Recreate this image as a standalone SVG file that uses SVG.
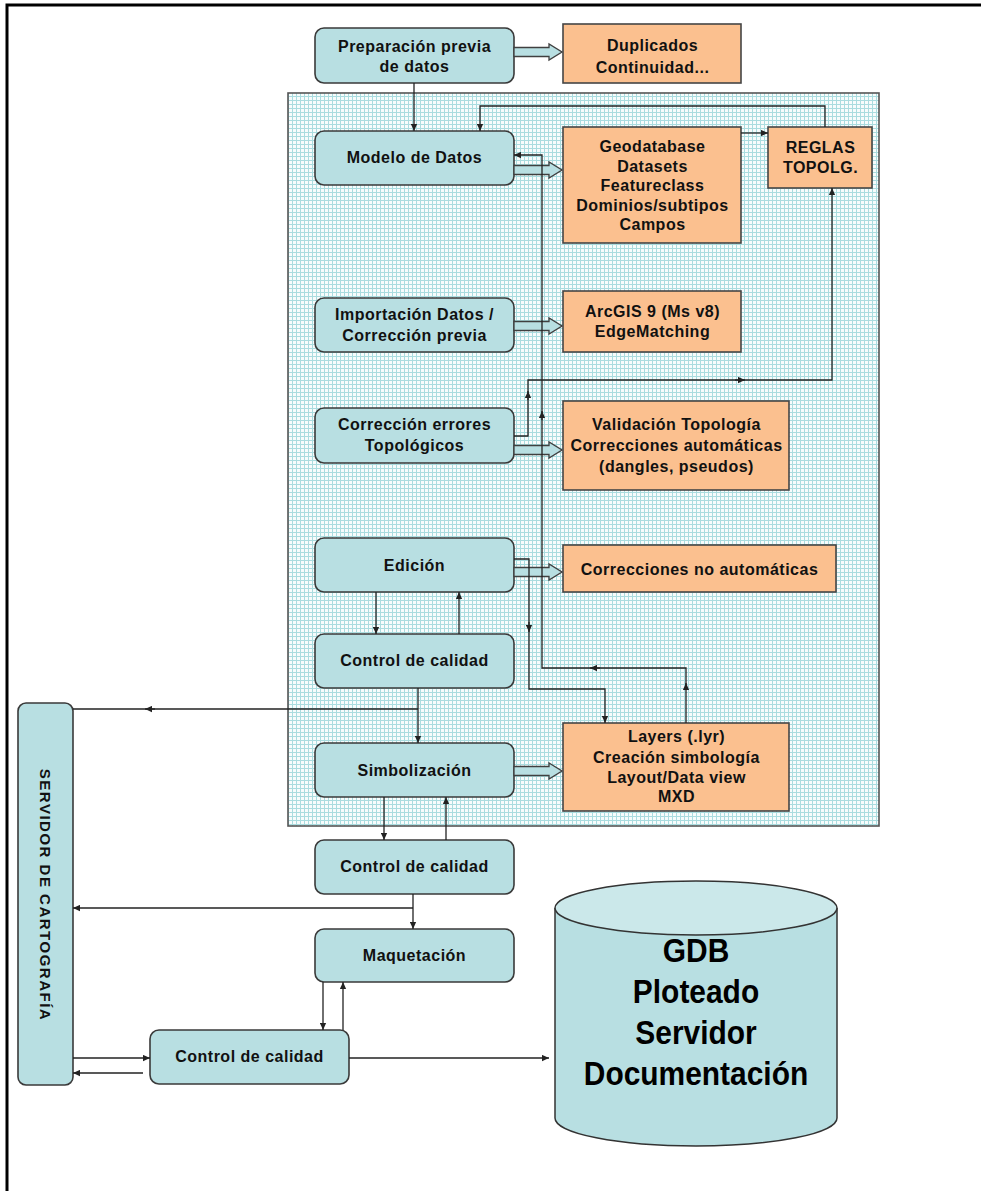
<svg xmlns="http://www.w3.org/2000/svg" width="981" height="1191" viewBox="0 0 981 1191">
<style>
.bx{fill:#b8dfe2;stroke:#3a3a3a;stroke-width:1.6}
.ob{fill:#fbc08f;stroke:#454545;stroke-width:1.6}
.t{font-family:"Liberation Sans",Arial,sans-serif;font-weight:bold;font-size:16px;letter-spacing:0.5px;fill:#111;text-anchor:middle}
.big{font-family:"Liberation Sans",Arial,sans-serif;font-weight:bold;font-size:34px;fill:#000;text-anchor:middle}
.ln{fill:none;stroke:#222;stroke-width:1.3}
.ba{fill:#b8dfe2;stroke:#404040;stroke-width:1.3}
</style>
<defs>
<pattern id="grid" patternUnits="userSpaceOnUse" width="4" height="4">
<rect width="4" height="4" fill="#f7fcfc"/>
<path d="M0 0.5H4M0.5 0V4" stroke="#aadcdf" stroke-width="1"/>
</pattern>
<marker id="ah" viewBox="0 0 10 10" refX="10" refY="5" markerWidth="7" markerHeight="7" markerUnits="userSpaceOnUse" orient="auto">
<path d="M0,0.5 L10,5 L0,9.5 z" fill="#222"/>
</marker>
</defs>
<rect width="981" height="1191" fill="#fff"/>
<path d="M7 1191V5H981" fill="none" stroke="#000" stroke-width="3"/>
<rect id="panel" x="288" y="93" width="591" height="733" fill="url(#grid)" stroke="#555" stroke-width="1.6"/>

<g id="n_preparacion"><rect class="bx" x="315" y="28" width="199" height="55" rx="9"/>
<text class="t" x="414.5" y="52">Preparación previa</text><text class="t" x="414.5" y="72">de datos</text></g>
<g id="n_duplicados"><rect class="ob" x="563" y="24" width="178" height="59"/>
<text class="t" x="652.5" y="51">Duplicados</text><text class="t" x="652.5" y="73">Continuidad...</text></g>
<g id="n_modelo"><rect class="bx" x="315" y="131" width="199" height="54" rx="9"/>
<text class="t" x="414.5" y="163">Modelo de Datos</text></g>
<g id="n_geodatabase"><rect class="ob" x="563" y="127" width="178" height="116"/>
<text class="t" x="652.5" y="152">Geodatabase</text><text class="t" x="652.5" y="172">Datasets</text><text class="t" x="652.5" y="191">Featureclass</text><text class="t" x="652.5" y="211">Dominios/subtipos</text><text class="t" x="652.5" y="230">Campos</text></g>
<g id="n_reglas"><rect class="ob" x="768" y="127" width="104" height="61"/>
<text class="t" x="820.5" y="153">REGLAS</text><text class="t" x="820.5" y="173">TOPOLG.</text></g>
<g id="n_importacion"><rect class="bx" x="315" y="298" width="199" height="54" rx="9"/>
<text class="t" x="414.5" y="320">Importación Datos /</text><text class="t" x="414.5" y="341">Corrección previa</text></g>
<g id="n_arcgis"><rect class="ob" x="563" y="291" width="178" height="61"/>
<text class="t" x="652.5" y="317">ArcGIS 9 (Ms v8)</text><text class="t" x="652.5" y="337">EdgeMatching</text></g>
<g id="n_correccion"><rect class="bx" x="315" y="408" width="199" height="55" rx="9"/>
<text class="t" x="414.5" y="430">Corrección errores</text><text class="t" x="414.5" y="451">Topológicos</text></g>
<g id="n_validacion"><rect class="ob" x="563" y="401" width="226" height="89"/>
<text class="t" x="676.5" y="430">Validación Topología</text><text class="t" x="676.5" y="451">Correcciones automáticas</text><text class="t" x="676.5" y="472">(dangles, pseudos)</text></g>
<g id="n_edicion"><rect class="bx" x="315" y="538" width="199" height="54" rx="9"/>
<text class="t" x="414.5" y="571">Edición</text></g>
<g id="n_noauto"><rect class="ob" x="563" y="545" width="273" height="47"/>
<text class="t" x="699.5" y="575">Correcciones no automáticas</text></g>
<g id="n_control1"><rect class="bx" x="315" y="634" width="199" height="54" rx="9"/>
<text class="t" x="414.5" y="666">Control de calidad</text></g>
<g id="n_simbolizacion"><rect class="bx" x="315" y="743" width="199" height="54" rx="9"/>
<text class="t" x="414.5" y="776">Simbolización</text></g>
<g id="n_layers"><rect class="ob" x="563" y="723" width="226" height="88"/>
<text class="t" x="676.5" y="742">Layers (.lyr)</text><text class="t" x="676.5" y="763">Creación simbología</text><text class="t" x="676.5" y="783">Layout/Data view</text><text class="t" x="676.5" y="802">MXD</text></g>
<g id="n_control2"><rect class="bx" x="315" y="840" width="199" height="54" rx="9"/>
<text class="t" x="414.5" y="872">Control de calidad</text></g>
<g id="n_maquetacion"><rect class="bx" x="315" y="929" width="199" height="53" rx="9"/>
<text class="t" x="414.5" y="961">Maquetación</text></g>
<g id="n_control3"><rect class="bx" x="150" y="1030" width="199" height="54" rx="9"/>
<text class="t" x="249.5" y="1062">Control de calidad</text></g>
<g id="n_servidor"><rect class="bx" x="18" y="703" width="55" height="382" rx="8"/>
<text class="t" transform="translate(45.5,895) rotate(90)" x="0" y="5.5" style="font-size:15px;letter-spacing:1.5px">SERVIDOR DE CARTOGRAFÍA</text></g>
<g id="n_gdb">
<path d="M555 908V1118A141 28 0 0 0 837 1118V908" fill="#b8dfe2" stroke="#333" stroke-width="1.5"/>
<ellipse cx="696" cy="908" rx="141" ry="27" fill="#cbe8ea" stroke="#333" stroke-width="1.5"/>
<g transform="translate(696,0) scale(0.88,1)">
<text class="big" x="0" y="962">GDB</text><text class="big" x="0" y="1003">Ploteado</text><text class="big" x="0" y="1044">Servidor</text><text class="big" x="0" y="1085">Documentación</text>
</g>
</g>

<g id="connectors">
<polygon class="ba" points="514,47.5 549,47.5 549,44 562,52 549,60 549,56.5 514,56.5"/>
<polygon class="ba" points="514,165.5 549,165.5 549,162 562,170 549,178 549,174.5 514,174.5"/>
<polygon class="ba" points="514,321.5 549,321.5 549,318 562,326 549,334 549,330.5 514,330.5"/>
<polygon class="ba" points="514,445.5 549,445.5 549,442 562,450 549,458 549,454.5 514,454.5"/>
<polygon class="ba" points="514,567.5 549,567.5 549,564 562,572 549,580 549,576.5 514,576.5"/>
<polygon class="ba" points="514,766.5 549,766.5 549,763 562,771 549,779 549,775.5 514,775.5"/>

<path class="ln" d="M414 83V131" marker-end="url(#ah)"/>
<path class="ln" d="M825 127V106H480V131" marker-end="url(#ah)"/>
<path class="ln" d="M741 133H768" marker-end="url(#ah)"/>
<path class="ln" d="M686 723V668H542V155H514" marker-end="url(#ah)"/>
<path class="ln" d="M686 690V683" marker-end="url(#ah)"/>
<path class="ln" d="M600 668H590" marker-end="url(#ah)"/>
<path class="ln" d="M542 420V411" marker-end="url(#ah)"/>
<path class="ln" d="M514 436H528V380H832V188" marker-end="url(#ah)"/>
<path class="ln" d="M528 400V391" marker-end="url(#ah)"/>
<path class="ln" d="M735 380H745" marker-end="url(#ah)"/>
<path class="ln" d="M514 559H529V689H605V723" marker-end="url(#ah)"/>
<path class="ln" d="M529 622V632" marker-end="url(#ah)"/>
<path class="ln" d="M376 592V634" marker-end="url(#ah)"/>
<path class="ln" d="M459 634V592" marker-end="url(#ah)"/>
<path class="ln" d="M418 688V743" marker-end="url(#ah)"/>
<path class="ln" d="M418 709H73"/>
<path class="ln" d="M155 709H145" marker-end="url(#ah)"/>
<path class="ln" d="M384 797V840" marker-end="url(#ah)"/>
<path class="ln" d="M446 840V797" marker-end="url(#ah)"/>
<path class="ln" d="M413 894V929" marker-end="url(#ah)"/>
<path class="ln" d="M413 908H73" marker-end="url(#ah)"/>
<path class="ln" d="M323 982V1030" marker-end="url(#ah)"/>
<path class="ln" d="M343 1030V982" marker-end="url(#ah)"/>
<path class="ln" d="M73 1058H150" marker-end="url(#ah)"/>
<path class="ln" d="M143 1073H73" marker-end="url(#ah)"/>
<path class="ln" d="M349 1058H549" marker-end="url(#ah)"/>
</g>
</svg>
